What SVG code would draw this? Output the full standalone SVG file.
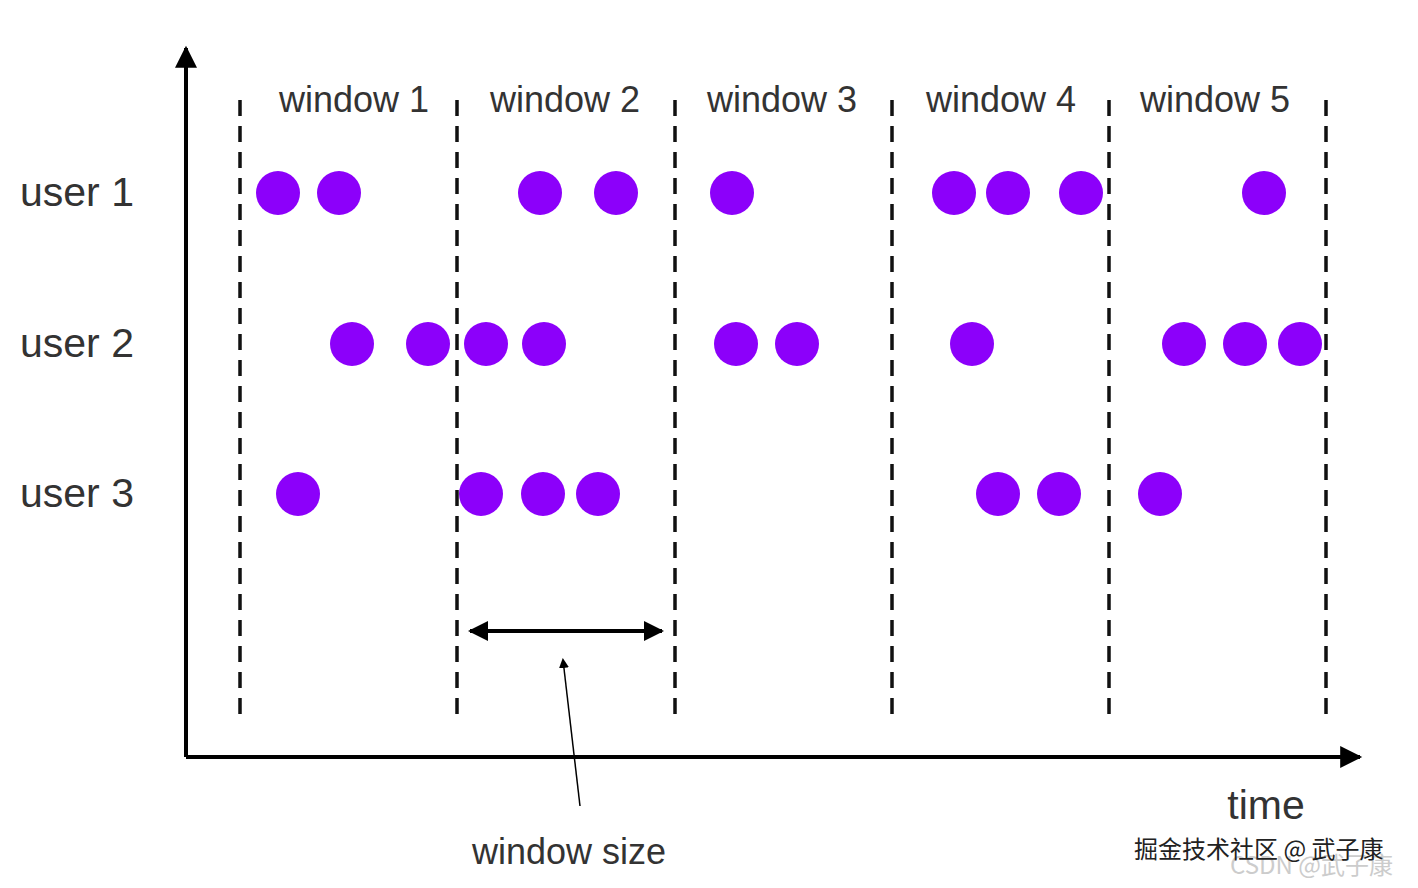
<svg xmlns="http://www.w3.org/2000/svg" width="1418" height="888" viewBox="0 0 1418 888">
<style>
.t{font-family:"Liberation Sans",Arial,sans-serif;fill:#333}
.d{stroke:#111;stroke-width:3.5;stroke-dasharray:16,10}
.c{fill:#8c00fa}
</style>
<defs>
<marker id="ah" markerWidth="10" markerHeight="10" refX="8" refY="5" orient="auto" markerUnits="userSpaceOnUse" viewBox="0 0 10 10"><path d="M0,0 L10,5 L0,10 z" fill="#000"/></marker>
<marker id="big" viewBox="0 0 10 10" refX="9" refY="5" markerWidth="24" markerHeight="22" orient="auto" markerUnits="userSpaceOnUse"><path d="M0,0 L10,5 L0,10 z" fill="#000"/></marker>
<marker id="mid" viewBox="0 0 10 10" refX="9" refY="5" markerWidth="26" markerHeight="20" orient="auto-start-reverse" markerUnits="userSpaceOnUse"><path d="M0,0 L10,5 L0,10 z" fill="#000"/></marker>
</defs>
<rect width="1418" height="888" fill="#fff"/>
<g id="connectors">
<line x1="186" y1="757" x2="186" y2="48" stroke="#000" stroke-width="4" marker-end="url(#big)"/>
<line x1="186" y1="757" x2="1360" y2="757" stroke="#000" stroke-width="4" marker-end="url(#big)"/>
<line class="d" x1="240" y1="100" x2="240" y2="720"/>
<line class="d" x1="457" y1="100" x2="457" y2="720"/>
<line class="d" x1="675" y1="100" x2="675" y2="720"/>
<line class="d" x1="892" y1="100" x2="892" y2="720"/>
<line class="d" x1="1109" y1="100" x2="1109" y2="720"/>
<line class="d" x1="1326" y1="100" x2="1326" y2="720"/>
<line x1="470" y1="631" x2="662" y2="631" stroke="#000" stroke-width="4" marker-start="url(#mid)" marker-end="url(#mid)"/>
<line x1="580" y1="806" x2="563" y2="660" stroke="#000" stroke-width="1.5" marker-end="url(#ah)"/>
</g>
<g id="labels" class="t">
<text x="20" y="206" font-size="41">user 1</text>
<text x="20" y="357" font-size="41">user 2</text>
<text x="20" y="507" font-size="41">user 3</text>
<g font-size="36" text-anchor="middle">
<text x="354" y="112">window 1</text>
<text x="565" y="112">window 2</text>
<text x="782" y="112">window 3</text>
<text x="1001" y="112">window 4</text>
<text x="1215" y="112">window 5</text>
<text x="569" y="864">window size</text>
</g>
<text x="1266" y="819" font-size="41" text-anchor="middle">time</text>
</g>
<g id="dots" class="c">
<circle cx="278" cy="193" r="22"/><circle cx="339" cy="193" r="22"/><circle cx="540" cy="193" r="22"/><circle cx="616" cy="193" r="22"/><circle cx="732" cy="193" r="22"/><circle cx="954" cy="193" r="22"/><circle cx="1008" cy="193" r="22"/><circle cx="1081" cy="193" r="22"/><circle cx="1264" cy="193" r="22"/>
<circle cx="352" cy="344" r="22"/><circle cx="428" cy="344" r="22"/><circle cx="486" cy="344" r="22"/><circle cx="544" cy="344" r="22"/><circle cx="736" cy="344" r="22"/><circle cx="797" cy="344" r="22"/><circle cx="972" cy="344" r="22"/><circle cx="1184" cy="344" r="22"/><circle cx="1245" cy="344" r="22"/><circle cx="1300" cy="344" r="22"/>
<circle cx="298" cy="494" r="22"/><circle cx="481" cy="494" r="22"/><circle cx="543" cy="494" r="22"/><circle cx="598" cy="494" r="22"/><circle cx="998" cy="494" r="22"/><circle cx="1059" cy="494" r="22"/><circle cx="1160" cy="494" r="22"/>
</g>
<g id="watermark" font-family="'Noto Sans CJK SC',sans-serif">
<text x="1230" y="874" font-size="24" fill="#ccc">CSDN @武子康</text>
<text x="1134" y="858" font-size="24" fill="#222">掘金技术社区 @ 武子康</text>
</g>
</svg>
